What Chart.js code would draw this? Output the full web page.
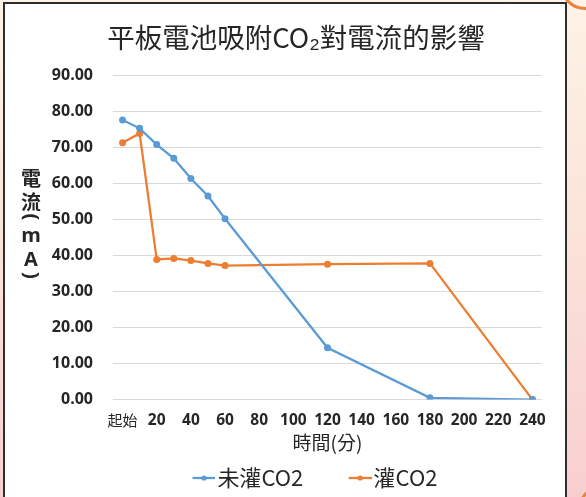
<!DOCTYPE html>
<html>
<head>
<meta charset="utf-8">
<script src="https://cdn.jsdelivr.net/npm/chart.js@4/dist/chart.umd.min.js"></script>
<style>
  html, body { margin: 0; padding: 0; width: 586px; height: 497px; overflow: hidden; }
  body { position: relative; background: linear-gradient(180deg, #fdf3e6 0%, #fbe4da 45%, #f8cfcf 100%); }
  #frame { position: absolute; left: 3px; top: 2px; width: 560px; height: 520px; background: #fff; border: 2px solid #2e2e2e; }
  .arc { position: absolute; border: 3px solid #e9843f; border-radius: 50%; }
  #wrap { position: absolute; left: 0; top: 0; width: 586px; height: 497px; }
</style>
</head>
<body>
<div class="arc" style="left:560px; top:-40px; width:44px; height:44px;"></div>
<div class="arc" style="left:578px; top:486px; width:40px; height:40px;"></div>
<div id="frame"></div>
<div id="wrap"><canvas id="chart" width="586" height="497"></canvas></div>
<script>
// Time (minutes) at which the current was measured
const timeMinutes = [0, 10, 20, 30, 40, 50, 60, 120, 180, 240];
// Current (mA) of the plate cell without CO2
const currentNoCO2 = [77.6, 75.3, 70.8, 67.0, 61.4, 56.5, 50.2, 14.4, 0.5, 0.0];
// Current (mA) of the plate cell with CO2 bubbled in
const currentWithCO2 = [71.3, 73.9, 38.9, 39.2, 38.6, 37.8, 37.2, 37.6, 37.8, 0.0];
// Axis ticks
const xTickValues = [0, 20, 40, 60, 80, 100, 120, 140, 160, 180, 200, 220, 240];
const xTickLabels = ['起始', '20', '40', '60', '80', '100', '120', '140', '160', '180', '200', '220', '240'];
const yTickValues = [0, 10, 20, 30, 40, 50, 60, 70, 80, 90];
const seriesLabels = ['未灌CO2', '灌CO2'];
const chartTitle = '平板電池吸附CO₂對電流的影響';
const xAxisTitle = '時間(分)';
const yAxisTitleChars = ['電', '流', '(', 'm', 'A', ')'];

const BLUE = '#5B9BD5';
const ORANGE = '#ED7D31';
const TEXT = '#262626';
const CJK = '"Noto Sans CJK TC", "Noto Sans CJK SC", sans-serif';
const NUM = '"Open Sans", "Noto Sans CJK TC", sans-serif';

// Legend marker: a short line with a dot, drawn at the right end of a wider image
function legendMarker(color) {
  const c = document.createElement('canvas');
  c.width = 70; c.height = 10;
  const g = c.getContext('2d');
  g.strokeStyle = color; g.lineWidth = 2.25;
  g.beginPath(); g.moveTo(47, 5); g.lineTo(70, 5); g.stroke();
  g.fillStyle = color;
  g.beginPath(); g.arc(58.5, 5, 2.6, 0, Math.PI * 2); g.fill();
  return c;
}
const markers = [legendMarker(BLUE), legendMarker(ORANGE)];

// Vertical (stacked) y-axis title
const stackedYTitle = {
  id: 'stackedYTitle',
  afterDraw(chart) {
    const ctx = chart.ctx;
    const x = 31;
    const ys = [178, 202.5, 217, 236, 260.5, 275.5];
    ctx.save();
    ctx.fillStyle = TEXT;
    ctx.textAlign = 'center';
    ctx.textBaseline = 'middle';
    yAxisTitleChars.forEach((ch, i) => {
      ctx.save();
      ctx.translate(x, ys[i]);
      if (ch === '(' || ch === ')') {
        ctx.rotate(Math.PI / 2);
        ctx.font = 'bold 20px ' + NUM;
      } else if (/[A-Za-z]/.test(ch)) {
        ctx.font = 'bold 20px ' + NUM;
      } else {
        ctx.font = 'bold 20px ' + CJK;
      }
      ctx.fillText(ch, 0, 0);
      ctx.restore();
    });
    ctx.restore();
  }
};

new Chart(document.getElementById('chart'), {
  type: 'line',
  data: {
    datasets: [
      {
        label: seriesLabels[0],
        data: timeMinutes.map((t, i) => ({ x: t, y: currentNoCO2[i] })),
        borderColor: BLUE, backgroundColor: BLUE,
        borderWidth: 2.25, pointRadius: 3.5, pointHoverRadius: 3.5,
        pointBackgroundColor: BLUE, pointBorderWidth: 0, tension: 0
      },
      {
        label: seriesLabels[1],
        data: timeMinutes.map((t, i) => ({ x: t, y: currentWithCO2[i] })),
        borderColor: ORANGE, backgroundColor: ORANGE,
        borderWidth: 2.25, pointRadius: 3.5, pointHoverRadius: 3.5,
        pointBackgroundColor: ORANGE, pointBorderWidth: 0, tension: 0
      }
    ]
  },
  options: {
    responsive: false,
    animation: false,
    devicePixelRatio: 1,
    layout: { padding: { left: 50, right: 44, top: 0, bottom: 0 } },
    plugins: {
      tooltip: { enabled: false },
      title: {
        display: true,
        text: chartTitle,
        color: TEXT,
        font: { family: CJK, size: 27.5, weight: 'normal' },
        padding: { top: 21, bottom: 21.4 }
      },
      legend: {
        position: 'bottom',
        maxHeight: 37.4,
        labels: {
          color: TEXT,
          font: { family: CJK, size: 22, weight: 'normal' },
          usePointStyle: true,
          pointStyleWidth: 51.9,
          padding: 7.4,
          generateLabels(chart) {
            return chart.data.datasets.map((ds, i) => ({
              text: ds.label,
              fillStyle: ds.borderColor,
              strokeStyle: ds.borderColor,
              lineWidth: 0,
              pointStyle: markers[i],
              fontColor: TEXT,
              hidden: !chart.isDatasetVisible(i),
              datasetIndex: i
            }));
          }
        }
      }
    },
    scales: {
      x: {
        type: 'linear',
        min: -5.6,
        max: 245.6,
        grid: { display: false, drawTicks: false },
        border: { display: false },
        afterBuildTicks(scale) {
          scale.ticks = xTickValues.map(v => ({ value: v }));
        },
        ticks: {
          autoSkip: false,
          maxRotation: 0,
          padding: 12,
          color: TEXT,
          font: (ctx) => (ctx.tick && ctx.tick.value === 0)
            ? { family: CJK, size: 15, weight: 'normal' }
            : { family: NUM, size: 15.5, weight: 'bold' },
          callback: (v) => xTickLabels[xTickValues.indexOf(v)]
        },
        title: {
          display: true,
          text: xAxisTitle,
          color: TEXT,
          font: { family: CJK, size: 19, weight: 'normal' },
          padding: { top: -11, bottom: 5.6 }
        }
      },
      y: {
        min: 0,
        max: 90,
        afterBuildTicks(scale) {
          scale.ticks = yTickValues.map(v => ({ value: v }));
        },
        afterFit(scale) { scale.width = 63; },
        grid: { color: '#D9D9D9', lineWidth: 1, drawTicks: false },
        border: { display: false },
        ticks: {
          padding: 20,
          color: TEXT,
          font: { family: NUM, size: 16, weight: 'bold' },
          callback: (v) => Number(v).toFixed(2)
        }
      }
    }
  },
  plugins: [stackedYTitle]
});
</script>
</body>
</html>
